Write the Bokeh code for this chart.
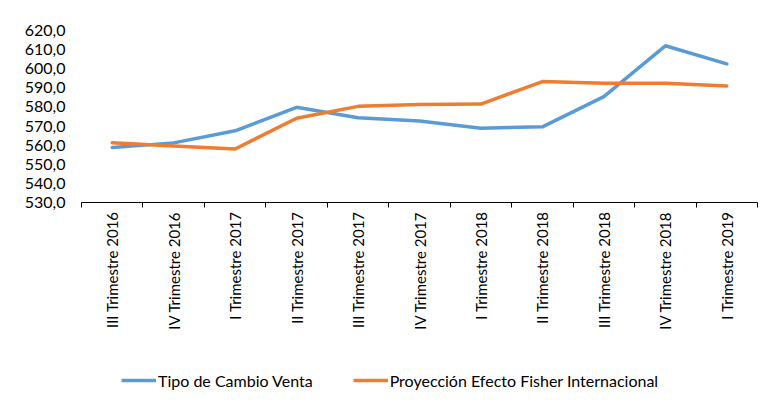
import math
from bokeh.plotting import figure
from bokeh.layouts import column
from bokeh.models import (ColumnDataSource, FixedTicker, Legend, LegendItem, Range1d)
from bokeh.embed import file_html
from bokeh.resources import INLINE

categories = ["III Trimestre 2016", "IV Trimestre 2016", "I Trimestre 2017", "II Trimestre 2017",
              "III Trimestre 2017", "IV Trimestre 2017", "I Trimestre 2018", "II Trimestre 2018",
              "III Trimestre 2018", "IV Trimestre 2018", "I Trimestre 2019"]
tipo_cambio = [558.8, 561.2, 567.5, 579.8, 574.3, 572.6, 568.9, 569.6, 585.4, 612.0, 602.5]
fisher = [561.3, 559.5, 558.0, 574.1, 580.3, 581.3, 581.5, 593.3, 592.4, 592.4, 591.0]
series_names = ["Tipo de Cambio Venta", "Proyección Efecto Fisher Internacional"]
y_ticks = [530, 540, 550, 560, 570, 580, 590, 600, 610, 620]
y_tick_labels = ["530,0", "540,0", "550,0", "560,0", "570,0", "580,0", "590,0", "600,0", "610,0", "620,0"]

FONT = "Lato"
BLUE = "#5B9BD5"
ORANGE = "#ED7D31"
LW = 3.5

xpos = [i + 0.5 for i in range(len(categories))]
src = ColumnDataSource(dict(x=xpos, a=tipo_cambio, b=fisher))

p = figure(width=767, height=368, output_backend="svg", toolbar_location=None,
           x_range=Range1d(0, len(categories)), y_range=Range1d(y_ticks[0], y_ticks[-1]),
           min_border_left=81, min_border_right=10, min_border_top=30, min_border_bottom=166)
p.outline_line_color = None
p.xgrid.visible = False
p.ygrid.visible = False

p.line("x", "a", source=src, line_color=BLUE, line_width=LW, line_cap="round", line_join="round")
p.line("x", "b", source=src, line_color=ORANGE, line_width=LW, line_cap="round", line_join="round")

# x axis
xa = p.xaxis[0]
xa.ticker = FixedTicker(ticks=xpos, minor_ticks=list(range(len(categories) + 1)))
xa.major_label_overrides = {x: c for x, c in zip(xpos, categories)}
xa.major_label_orientation = math.pi / 2
xa.major_tick_line_color = None
xa.major_tick_out = 0
xa.major_tick_in = 0
xa.minor_tick_line_color = "#000000"
xa.minor_tick_out = 5
xa.minor_tick_in = 0
xa.axis_line_color = "#000000"
xa.axis_line_width = 1
xa.major_label_standoff = 4
xa.major_label_text_font = FONT
xa.major_label_text_font_size = "15px"
xa.major_label_text_color = "#000000"

# y axis
ya = p.yaxis[0]
ya.ticker = FixedTicker(ticks=y_ticks)
ya.major_label_overrides = {t: l for t, l in zip(y_ticks, y_tick_labels)}
ya.axis_line_color = None
ya.major_tick_line_color = None
ya.minor_tick_line_color = None
ya.major_tick_out = 0
ya.minor_tick_out = 0
ya.major_label_standoff = 16
ya.major_label_text_font = FONT
ya.major_label_text_font_size = "16px"
ya.major_label_text_color = "#000000"

# legend strip below the chart (key glyphs only, no visible data)
lg = figure(width=767, height=30, output_backend="svg", toolbar_location=None,
            x_axis_location=None, y_axis_location=None,
            x_range=Range1d(0, 1), y_range=Range1d(0, 1), min_border=0)
lg.outline_line_color = None
lg.xgrid.visible = False
lg.ygrid.visible = False
k1 = lg.line(x=[math.nan], y=[math.nan], line_color=BLUE, line_width=LW)
k2 = lg.line(x=[math.nan], y=[math.nan], line_color=ORANGE, line_width=LW)
legend = Legend(items=[LegendItem(label=series_names[0], renderers=[k1]),
                       LegendItem(label=series_names[1], renderers=[k2])],
                orientation="horizontal", location=(40, 8),
                glyph_width=35, glyph_height=20, label_standoff=2, spacing=40,
                padding=0, margin=0, border_line_color=None, background_fill_alpha=0,
                label_text_font=FONT, label_text_font_size="16px", label_text_color="#000000")
lg.add_layout(legend, "center")

layout = column(p, lg, spacing=0)
open("out.html", "w").write(file_html(layout, INLINE))
